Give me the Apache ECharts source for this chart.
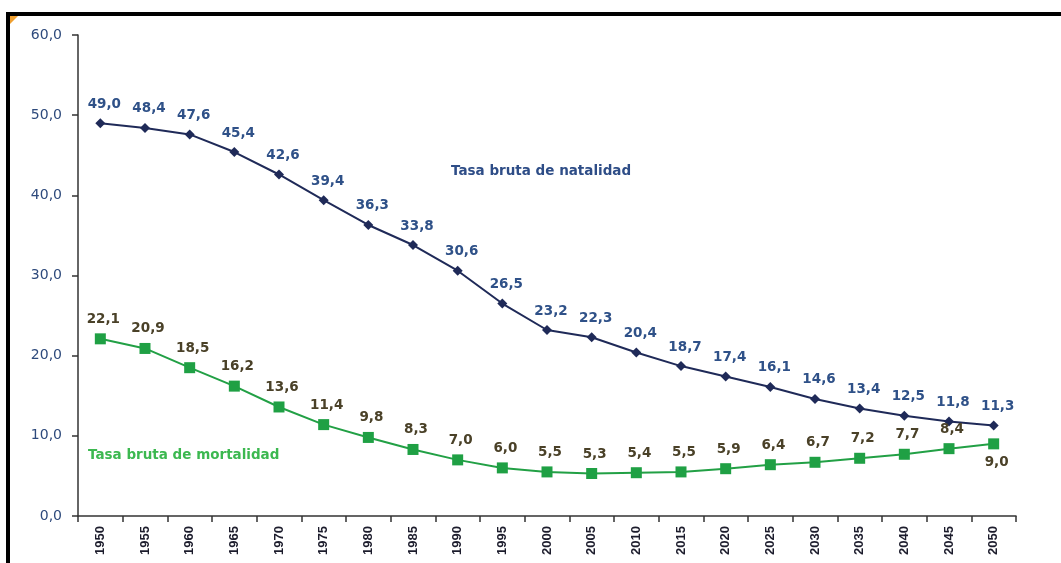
<!DOCTYPE html>
<html>
<head>
<meta charset="utf-8">
<script src="https://cdn.jsdelivr.net/npm/echarts@6/dist/echarts.min.js"></script>
<style>html,body{margin:0;padding:0;background:#fff;}#c{width:1061px;height:563px;}</style>
</head>
<body>
<div id="c"></div>
<script>
const years = ['1950','1955','1960','1965','1970','1975','1980','1985','1990','1995','2000','2005','2010','2015','2020','2025','2030','2035','2040','2045','2050'];
const natalidad = [49.0,48.4,47.6,45.4,42.6,39.4,36.3,33.8,30.6,26.5,23.2,22.3,20.4,18.7,17.4,16.1,14.6,13.4,12.5,11.8,11.3];
const mortalidad = [22.1,20.9,18.5,16.2,13.6,11.4,9.8,8.3,7.0,6.0,5.5,5.3,5.4,5.5,5.9,6.4,6.7,7.2,7.7,8.4,9.0];
const yTicks = {min: 0, max: 60, interval: 10};
const natName = 'Tasa bruta de natalidad';
const mortName = 'Tasa bruta de mortalidad';

const fmt = v => Number(v).toFixed(1).replace('.', ',');
const font = '"Liberation Sans", Arial, sans-serif';
const wide = '"DejaVu Sans", sans-serif';

const mortData = mortalidad.map((v, i) => i === mortalidad.length - 1
  ? {value: v, label: {position: 'bottom', distance: 6}}
  : v);

const chart = echarts.init(document.getElementById('c'), null, {renderer: 'canvas'});
chart.setOption({
  animation: false,
  backgroundColor: '#ffffff',
  grid: {left: 78, right: 45, top: 35, bottom: 47, containLabel: false},
  xAxis: {
    type: 'category',
    data: years,
    boundaryGap: true,
    axisLine: {lineStyle: {color: '#333', width: 1.5}},
    axisTick: {show: true, length: 6, alignWithLabel: false, interval: 0, lineStyle: {color: '#333', width: 1.5}},
    axisLabel: {rotate: 90, interval: 0, margin: 10, fontFamily: font, fontWeight: 'bold', fontSize: 13, color: '#1c1c2c'},
    splitLine: {show: false}
  },
  yAxis: {
    type: 'value',
    min: yTicks.min, max: yTicks.max, interval: yTicks.interval,
    axisLine: {show: true, lineStyle: {color: '#333', width: 1.5}},
    axisTick: {show: true, length: 6, lineStyle: {color: '#333', width: 1.5}},
    axisLabel: {formatter: fmt, margin: 16, fontFamily: wide, fontSize: 14, color: '#2e4a7c'},
    splitLine: {show: false}
  },
  series: [
    {
      name: natName,
      type: 'line',
      data: natalidad,
      symbol: 'diamond',
      symbolSize: 10,
      lineStyle: {color: '#1f2a58', width: 2},
      itemStyle: {color: '#1f2a58'},
      label: {show: true, position: 'top', distance: 7, offset: [4, 0], formatter: p => fmt(p.value),
        fontFamily: wide, fontWeight: 'bold', fontSize: 13.5, color: '#2f5188'}
    },
    {
      name: mortName,
      type: 'line',
      data: mortData,
      symbol: 'rect',
      symbolSize: 11,
      lineStyle: {color: '#22a045', width: 2},
      itemStyle: {color: '#1fa044'},
      label: {show: true, position: 'top', distance: 7, offset: [3, 0], formatter: p => fmt(p.value),
        fontFamily: wide, fontWeight: 'bold', fontSize: 13.5, color: '#4a4128'}
    }
  ],
  graphic: [
    {type: 'rect', shape: {x: 6, y: 12, width: 1061, height: 4}, style: {fill: '#000'}, silent: true},
    {type: 'rect', shape: {x: 6, y: 12, width: 4, height: 560}, style: {fill: '#000'}, silent: true},
    {type: 'polygon', shape: {points: [[10,16],[18,16],[10,24]]}, style: {fill: '#f0a030'}, silent: true},
    {type: 'text', left: 451, top: 164, style: {text: natName, font: 'bold 13.5px ' + wide, fill: '#2e4d87'}},
    {type: 'text', left: 88, top: 448, style: {text: mortName, font: 'bold 13.5px ' + wide, fill: '#3cb850'}}
  ]
});
</script>
</body>
</html>
